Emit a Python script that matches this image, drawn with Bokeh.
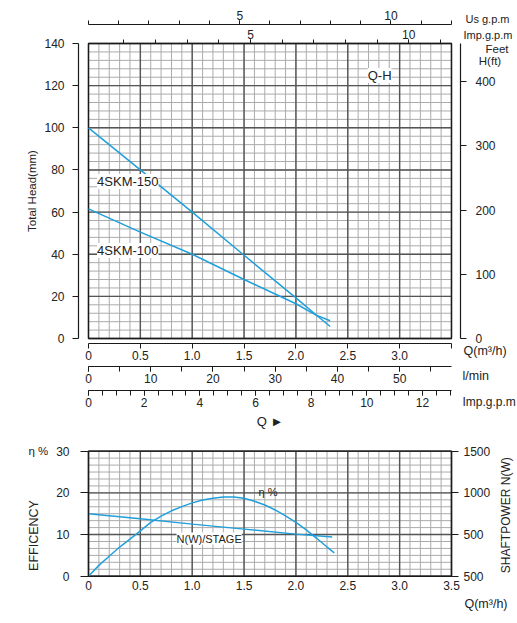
import numpy as np
from math import pi
from bokeh.plotting import figure
from bokeh.models import LinearAxis, Range1d, FixedTicker, Label
from bokeh.layouts import column
from bokeh.embed import file_html
from bokeh.resources import INLINE

FONT = "Liberation Sans"
TXT = "#222222"
INK = "#1a1a1a"
CURVE = "#1f9fdc"
MINOR = "#ababab"
MAJOR = "#555555"

# ---------------- data ----------------
# Q-H curves: Q in m3/h, H in m
q_150 = [0.0, 0.5, 1.0, 1.5, 2.0, 2.19, 2.33]
h_150 = [100.0, 80.0, 60.0, 39.5, 19.3, 11.4, 5.7]
q_100 = [0.0, 0.5, 1.0, 1.5, 2.0, 2.19, 2.33]
h_100 = [61.5, 50.5, 40.0, 28.0, 16.5, 11.2, 8.4]

# efficiency curve (percent)
q_eff = [0.0, 0.1, 0.2, 0.3, 0.4, 0.5, 0.6, 0.7, 0.8, 0.9, 1.0, 1.1, 1.2,
         1.3, 1.4, 1.5, 1.6, 1.7, 1.8, 1.9, 2.0, 2.1, 2.2, 2.3, 2.37]
eff = [0.0, 2.6, 4.8, 7.0, 8.9, 10.9, 12.9, 14.4, 15.7, 16.7, 17.6, 18.3, 18.7,
       19.0, 19.0, 18.7, 18.0, 17.1, 15.9, 14.5, 12.9, 11.1, 9.1, 7.0, 5.6]

# shaft power per stage (drawn on the efficiency scale)
q_pow = [0.0, 0.5, 1.0, 1.5, 2.0, 2.35]
pow_stage = [15.0, 13.8, 12.5, 11.3, 10.1, 9.4]

# axes / ticks
q_max = 3.5
h_max = 140
eff_max = 30
q_ticks = [0, 0.5, 1.0, 1.5, 2.0, 2.5, 3.0, 3.5]
q_labels_top = ["0", "0.5", "1.0", "1.5", "2.0", "2.5", "3.0", ""]
q_labels_bot = ["0", "0.5", "1.0", "1.5", "2.0", "2.5", "3.0", "3.5"]
h_ticks = [0, 20, 40, 60, 80, 100, 120, 140]
ft_ticks = [0, 100, 200, 300, 400]
lpm_ticks = [0, 10, 20, 30, 40, 50]
lpm_minor = [0, 5, 10, 15, 20, 25, 30, 35, 40, 45, 50, 55]
impb_ticks = [0, 2, 4, 6, 8, 10, 12]
impb_minor = [0, 0.5, 1, 1.5, 2, 2.5, 3, 3.5, 4, 4.5, 5, 5.5, 6, 6.5, 7, 7.5,
              8, 8.5, 9, 9.5, 10, 10.5, 11, 11.5, 12, 12.5, 13]
us_ticks = [5, 10]
us_minor = [0, 1, 2, 3, 4, 5, 6, 7, 8, 9, 10, 11, 12]
impt_ticks = [5, 10]
impt_minor = [1, 2, 3, 4, 5, 6, 7, 8, 9, 10, 11]
eff_ticks = [0, 10, 20, 30]
pow_labels = ["500", "500", "1000", "1500"]

M_TO_FT = 3.2808
LPM_PER_M3H = 1000.0 / 60.0
IMPB_PER_M3H = 1.0 / 0.2684
US_SPAN = (0.0, 12.0)        # US g.p.m as drawn over Q 0..3.5
IMPT_SPAN = (-0.12, 11.35)   # upper Imp.g.p.m as drawn over Q 0..3.5

# grid steps
q_minor_step, q_major_step = 0.1, 0.5
h_minor_step, h_major_step = 4, 20
e_minor_step, e_major_step = 10 / 6, 10

# visible window of each figure (data units); axes sit at fixed places inside it
XW = (-0.8485, 4.1365)
YW_TOP = (-44.6, 160.41)
YW_BOT = (-11.35, 34.49)
AX_LEFT_Q = -0.0964       # offset left axis of the Q-H chart
AX_RIGHT_Q = 3.587        # feet axis
AX_US_H = 149.0           # US g.p.m axis level
AX_Q_H = -2.37            # Q(m3/h) axis level
AX_LPM_H = -13.28         # l/min axis level
AX_IMPB_H = -24.67        # lower Imp.g.p.m axis level


def span_map(q, span):
    return span[0] + q * (span[1] - span[0]) / q_max


def steps(stop, step):
    return np.arange(0, stop + 1e-9, step)


def draw_grid(p, ymax, ymin_step, ymaj_step):
    xm = steps(q_max, q_minor_step)
    xM = steps(q_max, q_major_step)
    ym = steps(ymax, ymin_step)
    yM = steps(ymax, ymaj_step)
    p.segment(x0=xm, y0=0, x1=xm, y1=ymax, line_color=MINOR, line_width=1)
    p.segment(x0=0, y0=ym, x1=q_max, y1=ym, line_color=MINOR, line_width=1)
    p.segment(x0=xM, y0=0, x1=xM, y1=ymax, line_color=MAJOR, line_width=1.4)
    p.segment(x0=0, y0=yM, x1=q_max, y1=yM, line_color=MAJOR, line_width=1.4)
    p.quad(left=0, right=q_max, bottom=0, top=ymax, fill_color=None,
           line_color=INK, line_width=1.3)


def style_axis(ax, size="12px", tick=5, standoff=3):
    ax.major_label_text_font = FONT
    ax.major_label_text_font_size = size
    ax.major_label_text_color = TXT
    ax.axis_line_color = INK
    ax.axis_line_width = 1.2
    ax.major_tick_line_color = INK
    ax.minor_tick_line_color = INK
    ax.major_tick_in = 0
    ax.minor_tick_in = 0
    ax.major_tick_out = tick
    ax.minor_tick_out = tick
    ax.major_label_standoff = standoff
    ax.axis_label_text_font = FONT
    ax.axis_label_text_font_style = "normal"
    ax.axis_label_text_color = TXT
    return ax


def lab(p, x, y, text, size="12px", align="left", angle=0.0, bg=None):
    p.add_layout(Label(x=x, y=y, text=text, text_font=FONT, text_font_size=size,
                       text_color=TXT, text_align=align, text_baseline="middle",
                       angle=angle, background_fill_color=bg))


def base_figure(h, yw):
    p = figure(width=517, height=h, x_range=Range1d(*XW), y_range=Range1d(*yw),
               x_axis_location=None, y_axis_location=None,
               toolbar_location=None, output_backend="svg", min_border=0,
               outline_line_color=None)
    p.grid.visible = False
    return p


# ---------------- upper chart: Q-H ----------------
top = base_figure(432, YW_TOP)
top.extra_y_ranges = {"ft": Range1d(YW_TOP[0] * M_TO_FT, YW_TOP[1] * M_TO_FT)}
top.extra_x_ranges = {
    "us": Range1d(span_map(XW[0], US_SPAN), span_map(XW[1], US_SPAN)),
    "impt": Range1d(span_map(XW[0], IMPT_SPAN), span_map(XW[1], IMPT_SPAN)),
    "lpm": Range1d(XW[0] * LPM_PER_M3H, XW[1] * LPM_PER_M3H),
    "impb": Range1d(XW[0] * IMPB_PER_M3H, XW[1] * IMPB_PER_M3H),
}

draw_grid(top, h_max, h_minor_step, h_major_step)
top.line(q_150, h_150, line_color=CURVE, line_width=1.5)
top.line(q_100, h_100, line_color=CURVE, line_width=1.5)

# left axis (m)
ax_h = style_axis(LinearAxis(bounds=(0, h_max), ticker=FixedTicker(ticks=h_ticks),
                             axis_label="Total Head(mm)", fixed_location=AX_LEFT_Q),
                  tick=6, standoff=8)
ax_h.axis_label_text_font_size = "11.5px"
ax_h.axis_label_standoff = 3
top.add_layout(ax_h, "left")

# right axis (ft)
ax_ft = style_axis(LinearAxis(y_range_name="ft", bounds=(0, h_max * M_TO_FT),
                              ticker=FixedTicker(ticks=ft_ticks), fixed_location=AX_RIGHT_Q),
                   tick=6, standoff=9)
top.add_layout(ax_ft, "right")

# upper axes
ax_impt = style_axis(LinearAxis(x_range_name="impt", bounds=IMPT_SPAN, fixed_location=h_max,
                                ticker=FixedTicker(ticks=impt_ticks, minor_ticks=impt_minor)),
                     tick=4, standoff=1)
top.add_layout(ax_impt, "above")
ax_us = style_axis(LinearAxis(x_range_name="us", bounds=US_SPAN, fixed_location=AX_US_H,
                              ticker=FixedTicker(ticks=us_ticks, minor_ticks=us_minor)),
                   tick=4, standoff=1)
top.add_layout(ax_us, "above")

# lower axes
ax_q = style_axis(LinearAxis(bounds=(0, q_max), ticker=FixedTicker(ticks=q_ticks),
                             fixed_location=AX_Q_H), tick=5, standoff=2)
ax_q.major_label_overrides = {t: s for t, s in zip(q_ticks, q_labels_top)}
top.add_layout(ax_q, "below")
ax_lpm = style_axis(LinearAxis(x_range_name="lpm", bounds=(0, q_max * LPM_PER_M3H),
                               fixed_location=AX_LPM_H,
                               ticker=FixedTicker(ticks=lpm_ticks, minor_ticks=lpm_minor)),
                    tick=5, standoff=2)
top.add_layout(ax_lpm, "below")
ax_impb = style_axis(LinearAxis(x_range_name="impb", bounds=(0, q_max * IMPB_PER_M3H),
                                fixed_location=AX_IMPB_H,
                                ticker=FixedTicker(ticks=impb_ticks, minor_ticks=impb_minor),
                                axis_label="Q \u25ba"), tick=5, standoff=2)
ax_impb.axis_label_text_font_size = "13px"
ax_impb.axis_label_standoff = 4
top.add_layout(ax_impb, "below")

# texts
lab(top, 3.635, 151.4, "Us g.p.m", "11px")
lab(top, 3.616, 144.1, "Imp.g.p.m", "11px")
lab(top, 4.050, 137.5, "Feet", "11.5px", align="right")
lab(top, 3.979, 131.5, "H(ft)", "11.5px", align="right")
lab(top, 3.616, -5.7, "Q(m\u00b3/h)", "12.5px")
lab(top, 3.606, -17.6, "l/min", "12.5px")
lab(top, 3.606, -29.9, "Imp.g.p.m", "12px")
lab(top, 2.692, 124.8, "Q-H", "13px", bg="white")
lab(top, 0.083, 74.5, "4SKM-150", "13px", bg="white")
lab(top, 0.083, 41.8, "4SKM-100", "13px", bg="white")

# ---------------- lower chart: efficiency / shaft power ----------------
bot = base_figure(191, YW_BOT)
draw_grid(bot, eff_max, e_minor_step, e_major_step)
bot.line(q_eff, eff, line_color=CURVE, line_width=1.5)
bot.line(q_pow, pow_stage, line_color=CURVE, line_width=1.5)

ax_e = style_axis(LinearAxis(ticker=FixedTicker(ticks=eff_ticks), bounds=(0, eff_max),
                             fixed_location=0), tick=8, standoff=11)
bot.add_layout(ax_e, "left")
ax_p = style_axis(LinearAxis(ticker=FixedTicker(ticks=eff_ticks), bounds=(0, eff_max),
                             fixed_location=q_max), tick=7, standoff=5)
ax_p.major_label_overrides = {t: s for t, s in zip(eff_ticks, pow_labels)}
bot.add_layout(ax_p, "right")
ax_qb = style_axis(LinearAxis(ticker=FixedTicker(ticks=q_ticks), bounds=(0, q_max),
                              fixed_location=0), tick=0, standoff=5)
ax_qb.major_label_overrides = {t: s for t, s in zip(q_ticks, q_labels_bot)}
bot.add_layout(ax_qb, "below")

lab(bot, -0.5785, 30.17, "\u03b7 %", "11.5px")
lab(bot, -0.530, 9.77, "EFFICENCY", "12.5px", align="center", angle=pi / 2)
lab(bot, 4.021, 15.05, "SHAFTPOWER  N(W)", "12px", align="center", angle=pi / 2)
lab(bot, 3.625, -6.55, "Q(m\u00b3/h)", "12.5px")
lab(bot, 1.639, 20.16, "\u03b7 %", "11px")
lab(bot, 0.849, 9.05, "N(W)/STAGE", "11px", bg="white")

layout = column(top, bot)
open("out.html", "w").write(file_html(layout, INLINE))
